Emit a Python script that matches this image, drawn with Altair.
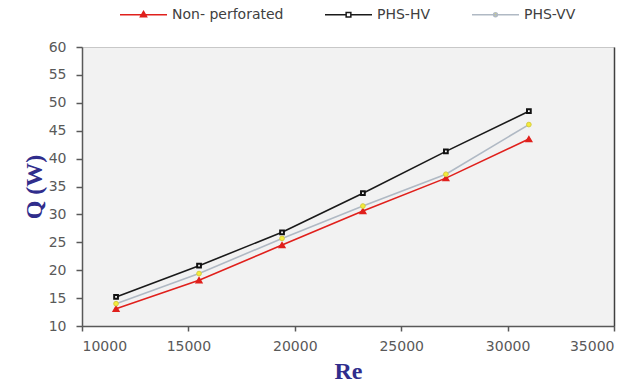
import altair as alt
import pandas as pd

series = ["Non- perforated", "PHS-HV", "PHS-VV"]
re_vals = [11600, 15500, 19400, 23200, 27100, 31000]
q_non = [13.1, 18.2, 24.5, 30.6, 36.5, 43.5]
q_hv = [15.2, 20.8, 26.8, 33.8, 41.3, 48.5]
q_vv = [14.0, 19.4, 25.7, 31.5, 37.2, 46.1]
x_ticks = [10000, 15000, 20000, 25000, 30000, 35000]
y_ticks = [10, 15, 20, 25, 30, 35, 40, 45, 50, 55, 60]

line_colors = ["#e0201c", "#1a1a1a", "#b0b9c4"]
marker_fill = ["#e0201c", "#ffffff", "#f4ec3c"]
marker_stroke = ["#e0201c", "#111111", "#d6cc40"]
marker_shapes = ["triangle-up", "square", "circle"]
marker_sizes = [34, 14, 22]
marker_widths = [1.4, 2.0, 1.0]
legend_paths = [
    "M-1,0H1M0,-0.14L0.13,0.09H-0.13Z",
    "M-1,0H-0.1M0.1,0H1M-0.1,-0.1H0.1V0.1H-0.1Z",
    "M-1,0H1M-0.08,0A0.08,0.08 0 1,0 0.08,0A0.08,0.08 0 1,0 -0.08,0Z",
]

rows = []
for name, vals in zip(series, [q_non, q_hv, q_vv]):
    for r, q in zip(re_vals, vals):
        rows.append({"series": name, "Re": r, "Q": q})
df = pd.DataFrame(rows)

AXIS_GRAY = "#595959"
TITLE_COLOR = "#302d8c"

x_enc = alt.X(
    "Re:Q",
    scale=alt.Scale(domain=[10000, 35000], nice=False, zero=False),
    axis=alt.Axis(
        values=x_ticks, format="d", grid=False,
        labelFont="DejaVu Sans", labelFontSize=14, labelColor=AXIS_GRAY,
        tickSize=5, tickColor=AXIS_GRAY, tickWidth=1.5,
        domainColor=AXIS_GRAY, domainWidth=1.5, labelPadding=8,
        title="Re", titleFont="Liberation Serif", titleFontSize=24,
        titleFontWeight="bold", titleColor=TITLE_COLOR, titlePadding=6,
    ),
)
y_scale = alt.Scale(domain=[10, 60], nice=False, zero=False)
y_left = alt.Y(
    "Q:Q", scale=y_scale,
    axis=alt.Axis(
        values=y_ticks, grid=False,
        labelFont="DejaVu Sans", labelFontSize=14, labelColor=AXIS_GRAY,
        tickSize=6, tickColor=AXIS_GRAY, tickWidth=1.5,
        domainColor=AXIS_GRAY, domainWidth=1.5, labelPadding=10,
        title="Q (W)", titleFont="Liberation Serif", titleFontSize=24,
        titleFontWeight="bold", titleColor=TITLE_COLOR, titlePadding=2,
    ),
)
y_right = alt.Y(
    "Q:Q", scale=y_scale,
    axis=alt.Axis(orient="right", labels=False, ticks=False, grid=False,
                  domainColor="#404040", domainWidth=1.5, title=None),
)
y_none = alt.Y("Q:Q", scale=y_scale, axis=None)

layers = []
for i, name in enumerate(series):
    y_enc = y_left if i == 0 else (y_right if i == 1 else y_none)
    layers.append(
        alt.Chart(df).transform_filter(alt.datum.series == name)
        .mark_line(color=line_colors[i], strokeWidth=1.6)
        .encode(x=x_enc, y=y_enc)
    )
for i, name in enumerate(series):
    layers.append(
        alt.Chart(df).transform_filter(alt.datum.series == name)
        .mark_point(shape=marker_shapes[i], filled=True, fill=marker_fill[i],
                    stroke=marker_stroke[i], strokeWidth=marker_widths[i],
                    size=marker_sizes[i], opacity=1)
        .encode(x=x_enc, y=y_none)
    )

leg = alt.Legend(
    orient="none", legendX=37, legendY=-57, direction="horizontal", title=None,
    symbolSize=2209, symbolStrokeWidth=1.5, labelFont="DejaVu Sans",
    labelFontSize=14, labelColor="#404040", labelOffset=4, columnPadding=38,
    padding=0, symbolOpacity=1,
)
legend_layer = (
    alt.Chart(df).transform_filter("datum.Re < 0")
    .mark_point(filled=True, opacity=1, strokeWidth=1.5)
    .encode(
        stroke=alt.Stroke("series:N", scale=alt.Scale(domain=series, range=line_colors), legend=leg),
        fill=alt.Fill("series:N", scale=alt.Scale(domain=series, range=marker_fill), legend=leg),
        shape=alt.Shape("series:N", scale=alt.Scale(domain=series, range=legend_paths), legend=leg),
    )
)
layers.append(legend_layer)

chart = (
    alt.layer(*layers)
    .resolve_axis(y="independent")
    .properties(
        width=532, height=279,
        autosize=alt.AutoSizeParams(type="none"),
        padding={"left": 82, "top": 47, "right": 28, "bottom": 61},
        background="white",
        view=alt.ViewBackground(fill="#f2f2f2", stroke="#c8c8c8", strokeWidth=1),
    )
)

chart.save("out.html", embed_options={"renderer": "svg", "actions": False})
